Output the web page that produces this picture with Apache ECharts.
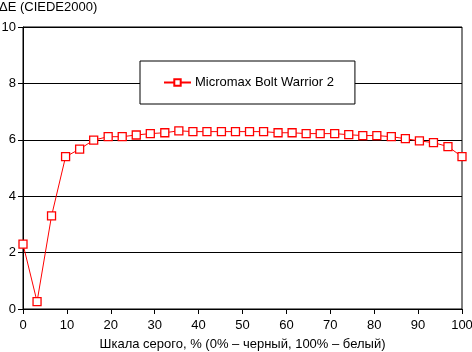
<!DOCTYPE html>
<html>
<head>
<meta charset="utf-8">
<script src="https://cdn.jsdelivr.net/npm/echarts@6/dist/echarts.min.js"></script>
<style>
  html, body { margin: 0; padding: 0; background: #fff; }
  #chart { width: 472px; height: 352px; }
</style>
</head>
<body>
<div id="chart"></div>
<script>
// уровни серого, %
const grayLevels = [0, 3.2, 6.5, 9.7, 12.9, 16.1, 19.4, 22.6, 25.8, 29.0, 32.3, 35.5, 38.7, 41.9, 45.2, 48.4,
  51.6, 54.8, 58.1, 61.3, 64.5, 67.7, 71.0, 74.2, 77.4, 80.6, 83.9, 87.1, 90.3, 93.5, 96.8, 100]
// ΔE для Micromax Bolt Warrior 2
const deltaE = [2.30, 0.26, 3.30, 5.40, 5.67, 5.99, 6.11, 6.11, 6.17, 6.22, 6.25, 6.32, 6.29, 6.29, 6.29, 6.29,
  6.29, 6.29, 6.25, 6.25, 6.22, 6.22, 6.22, 6.18, 6.15, 6.15, 6.11, 6.04, 5.96, 5.90, 5.76, 5.40]
const seriesName = 'Micromax Bolt Warrior 2'

const font = 'Arial, "Liberation Sans", sans-serif'
const chart = echarts.init(document.getElementById('chart'))

const option = {
  animation: false,
  textStyle: { fontFamily: font },
  title: {
    text: 'ΔE (CIEDE2000)',
    left: -1,
    top: 1,
    padding: 0,
    textStyle: { fontSize: 13, fontWeight: 'normal', color: '#000', fontFamily: font },
  },
  legend: {
    left: 140,
    top: 61,
    padding: [15, 21, 15, 23],
    backgroundColor: '#fff',
    borderColor: '#000',
    borderWidth: 1,
    borderRadius: 0,
    itemWidth: 27,
    itemHeight: 8,
    itemGap: 0,
    textStyle: { fontSize: 13, color: '#000', fontFamily: font, padding: [0, 0, 0, -1] },
    data: [seriesName],
  },
  grid: {
    left: 23,
    right: 10,
    top: 27,
    bottom: 43,
    outerBoundsMode: 'none',
    containLabel: false,
    show: true,
    borderColor: '#000',
    borderWidth: 1,
  },
  xAxis: {
    type: 'value',
    min: 0,
    max: 100,
    interval: 10,
    name: 'Шкала серого, % (0% – черный, 100% – белый)',
    nameLocation: 'middle',
    nameGap: 29,
    nameTextStyle: { fontSize: 13, color: '#000', fontFamily: font },
    axisLine: { lineStyle: { color: '#000', width: 1 } },
    axisTick: { show: true, length: 5, lineStyle: { color: '#000' } },
    axisLabel: { fontSize: 13, color: '#000', margin: 10 },
    splitLine: { show: false },
  },
  yAxis: {
    type: 'value',
    min: 0,
    max: 10,
    interval: 2,
    axisLine: { show: true, lineStyle: { color: '#000', width: 1 } },
    axisTick: { show: true, length: 5, lineStyle: { color: '#000' } },
    axisLabel: { fontSize: 13, color: '#000', margin: 7 },
    splitLine: { show: true, lineStyle: { color: '#000', width: 1 } },
  },
  series: [
    {
      name: seriesName,
      type: 'line',
      data: grayLevels.map((x, i) => [x, deltaE[i]]),
      symbol: 'rect',
      symbolSize: 8,
      lineStyle: { color: '#ff0000', width: 1 },
      itemStyle: { color: '#fff', borderColor: '#ff0000', borderWidth: 1.3 },
      emphasis: { disabled: true },
    },
  ],
}
chart.setOption(option)
</script>
</body>
</html>
